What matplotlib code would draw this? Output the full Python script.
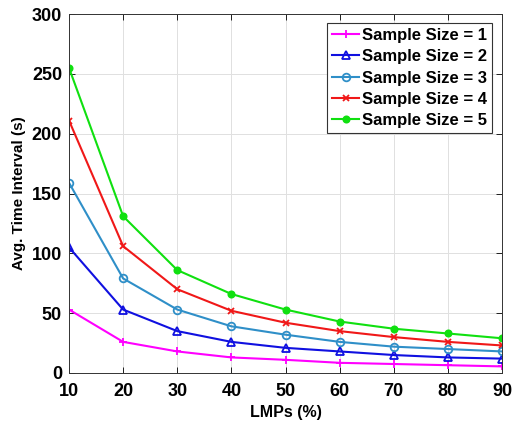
import matplotlib.pyplot as plt

plt.rcParams['font.family'] = ['Liberation Sans', 'DejaVu Sans']
plt.rcParams['font.weight'] = 'bold'

lmps = [10, 20, 30, 40, 50, 60, 70, 80, 90]
size1 = [53, 26, 18, 13, 11, 8.5, 7.5, 6.5, 5.5]
size2 = [105, 53, 35, 26, 21, 18, 15, 13, 12]
size3 = [159, 79, 53, 39, 32, 26, 22, 20, 18]
size4 = [211, 106, 70, 52, 42, 35, 30, 26, 23]
size5 = [255, 131, 86, 66, 53, 43, 37, 33, 29]

series = [
    ("Sample Size = 1", size1, '#ff00ff', '+', 'full', 6),
    ("Sample Size = 2", size2, '#1010e0', '^', 'none', 5.5),
    ("Sample Size = 3", size3, '#2f8fc8', 'o', 'none', 5.5),
    ("Sample Size = 4", size4, '#f01818', 'x', 'none', 5),
    ("Sample Size = 5", size5, '#10e010', 'o', 'full', 4.5),
]

fig = plt.figure(figsize=(5.13, 4.25), dpi=100)
ax = fig.add_axes([0.1345, 0.1224, 0.8441, 0.8446])

for label, vals, color, marker, fill, ms in series:
    ax.plot(lmps, vals, color=color, marker=marker, fillstyle=fill,
            markersize=ms, markeredgewidth=1.3, linewidth=1.5, label=label)

ax.set_xlim(10, 90)
ax.set_ylim(0, 300)
ax.set_xticks(lmps)
ax.set_yticks([0, 50, 100, 150, 200, 250, 300])
ax.tick_params(axis='both', labelsize=13, direction='in', top=True, right=True,
               length=4, width=0.6)
ax.tick_params(axis='x', pad=7)
ax.tick_params(axis='y', pad=5)
ax.grid(True, color='#e0e0e0', linewidth=0.7)
for s in ax.spines.values():
    s.set_linewidth(0.7)
    s.set_color('#333333')
ax.set_xlabel("LMPs (%)", fontsize=11.5, fontweight='bold', labelpad=4)
ax.set_ylabel("Avg. Time Interval (s)", fontsize=11, fontweight='bold', labelpad=4)

leg = ax.legend(loc='upper right', bbox_to_anchor=(0.978, 0.975), fontsize=12,
                fancybox=False, edgecolor='#333333', framealpha=1,
                handlelength=1.6, handletextpad=0.2, borderpad=0.3,
                labelspacing=0.38, borderaxespad=0)
leg.get_frame().set_linewidth(0.8)

fig.savefig('out.png', dpi=100)
